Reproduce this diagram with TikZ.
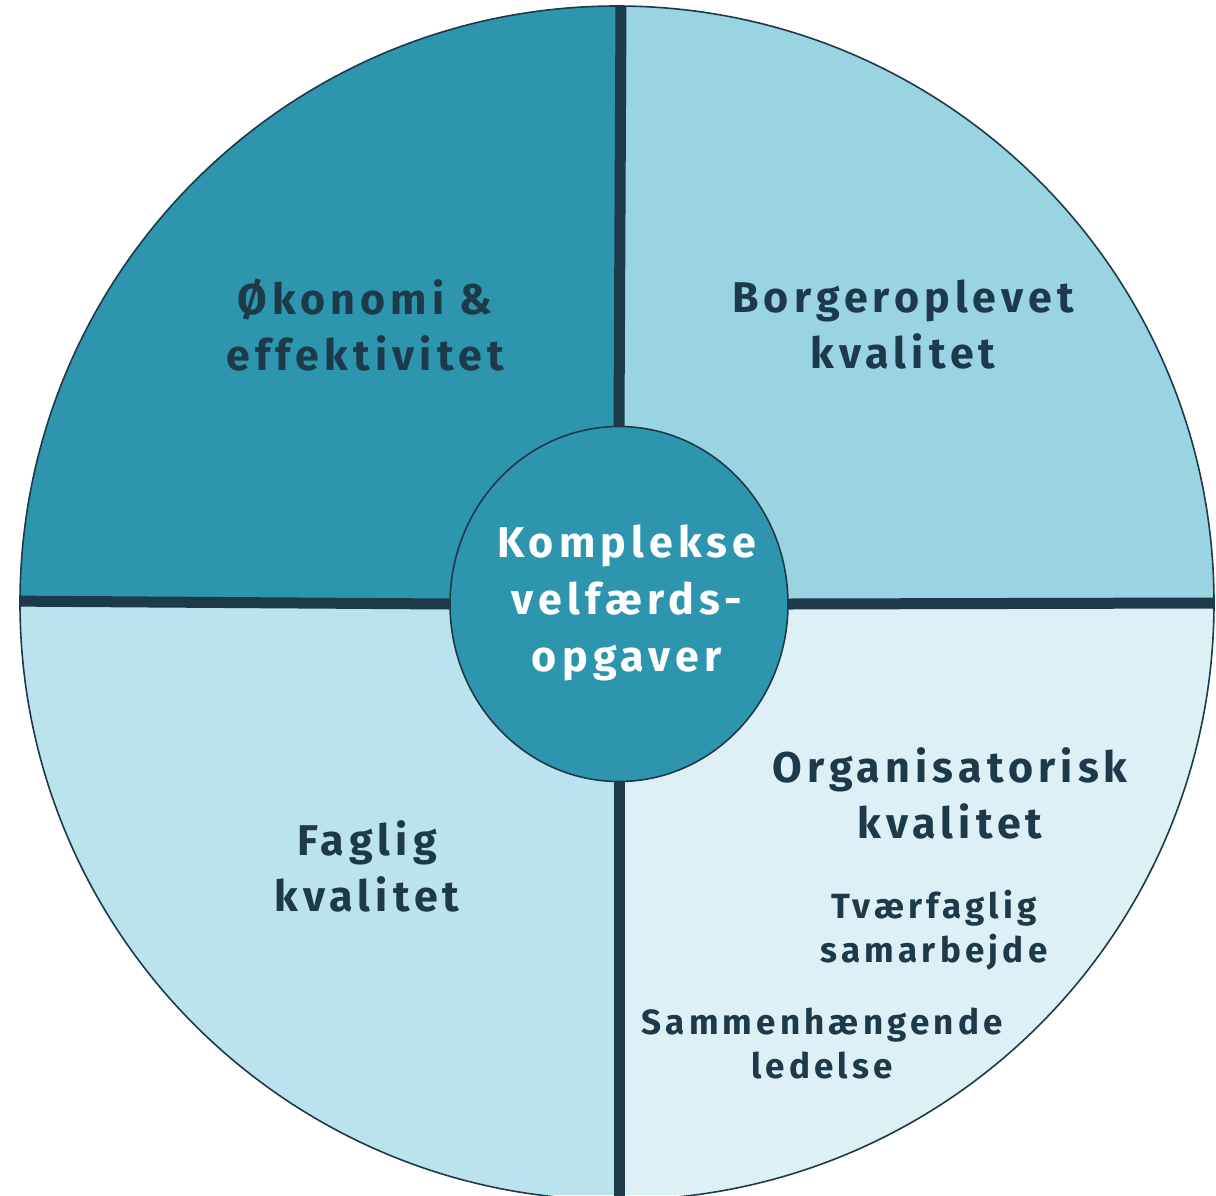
\documentclass[tikz,border=0pt]{standalone}
\usepackage{fontspec}
\setmainfont{Fira Sans}[LetterSpace=12]
\usetikzlibrary{shapes.geometric}
\definecolor{qtl}{HTML}{2E95AF}
\definecolor{qtr}{HTML}{9AD4E2}
\definecolor{qbl}{HTML}{BBE3ED}
\definecolor{qbr}{HTML}{DDF0F6}
\definecolor{dark}{HTML}{1D3A4A}
\tikzset{
  bigtxt/.style={text=dark, font=\fontsize{21.5}{28}\selectfont\bfseries, align=center},
  smalltxt/.style={text=dark, font=\fontsize{17.5}{22}\selectfont\bfseries, align=center},
  divider/.style={draw=dark, line width=5.5pt},
  hubshape/.style={ellipse, minimum width=169pt, minimum height=177.5pt, inner sep=0pt},
}
\begin{document}
\begin{tikzpicture}[x=0.5pt,y=-0.5pt]
\useasboundingbox (0,0) rectangle (1216,1195);
\coordinate (C) at (617,603);
\node[hubshape] (hub) at (619,604) {};
\begin{scope}
  \clip (C) circle (597);
  \fill[qtl] (0,0) rectangle (620,602);
  \fill[qtr] (620,0) rectangle (1216,602);
  \fill[qbl] (0,602) rectangle (620,1195);
  \fill[qbr] (620,602) rectangle (1216,1195);
  \coordinate (T) at (621,0);
  \coordinate (B) at (619,1200);
  \coordinate (L) at (0,601);
  \coordinate (R) at (1216,603);
  \draw[divider] (T) -- (hub.north);
  \draw[divider] (hub.south) -- (B);
  \draw[divider] (L) -- (hub.west);
  \draw[divider] (hub.east) -- (R);
\end{scope}
\draw[dark, line width=0.8pt] (C) circle (597);
\node[hubshape, fill=qtl, draw=dark, line width=0.8pt] (disc) at (hub.center) {};
\node[text=white, font=\fontsize{21.5}{28.5}\selectfont\bfseries, align=center] (center) at (627,603) {Komplekse\\velfærds-\\opgaver};
\node[bigtxt] (oek) at (365,325) {Økonomi \&\\effektivitet};
\node[bigtxt] (borg) at (903,325) {Borgeroplevet\\kvalitet};
\node[bigtxt] (fag) at (367,866) {Faglig\\kvalitet};
\node[bigtxt] (org) at (950,793) {Organisatorisk\\kvalitet};
\node[smalltxt] (tvf) at (934,930) {Tværfaglig\\samarbejde};
\node[smalltxt] (sam) at (822,1043) {Sammenhængende\\ledelse};
\end{tikzpicture}
\end{document}
